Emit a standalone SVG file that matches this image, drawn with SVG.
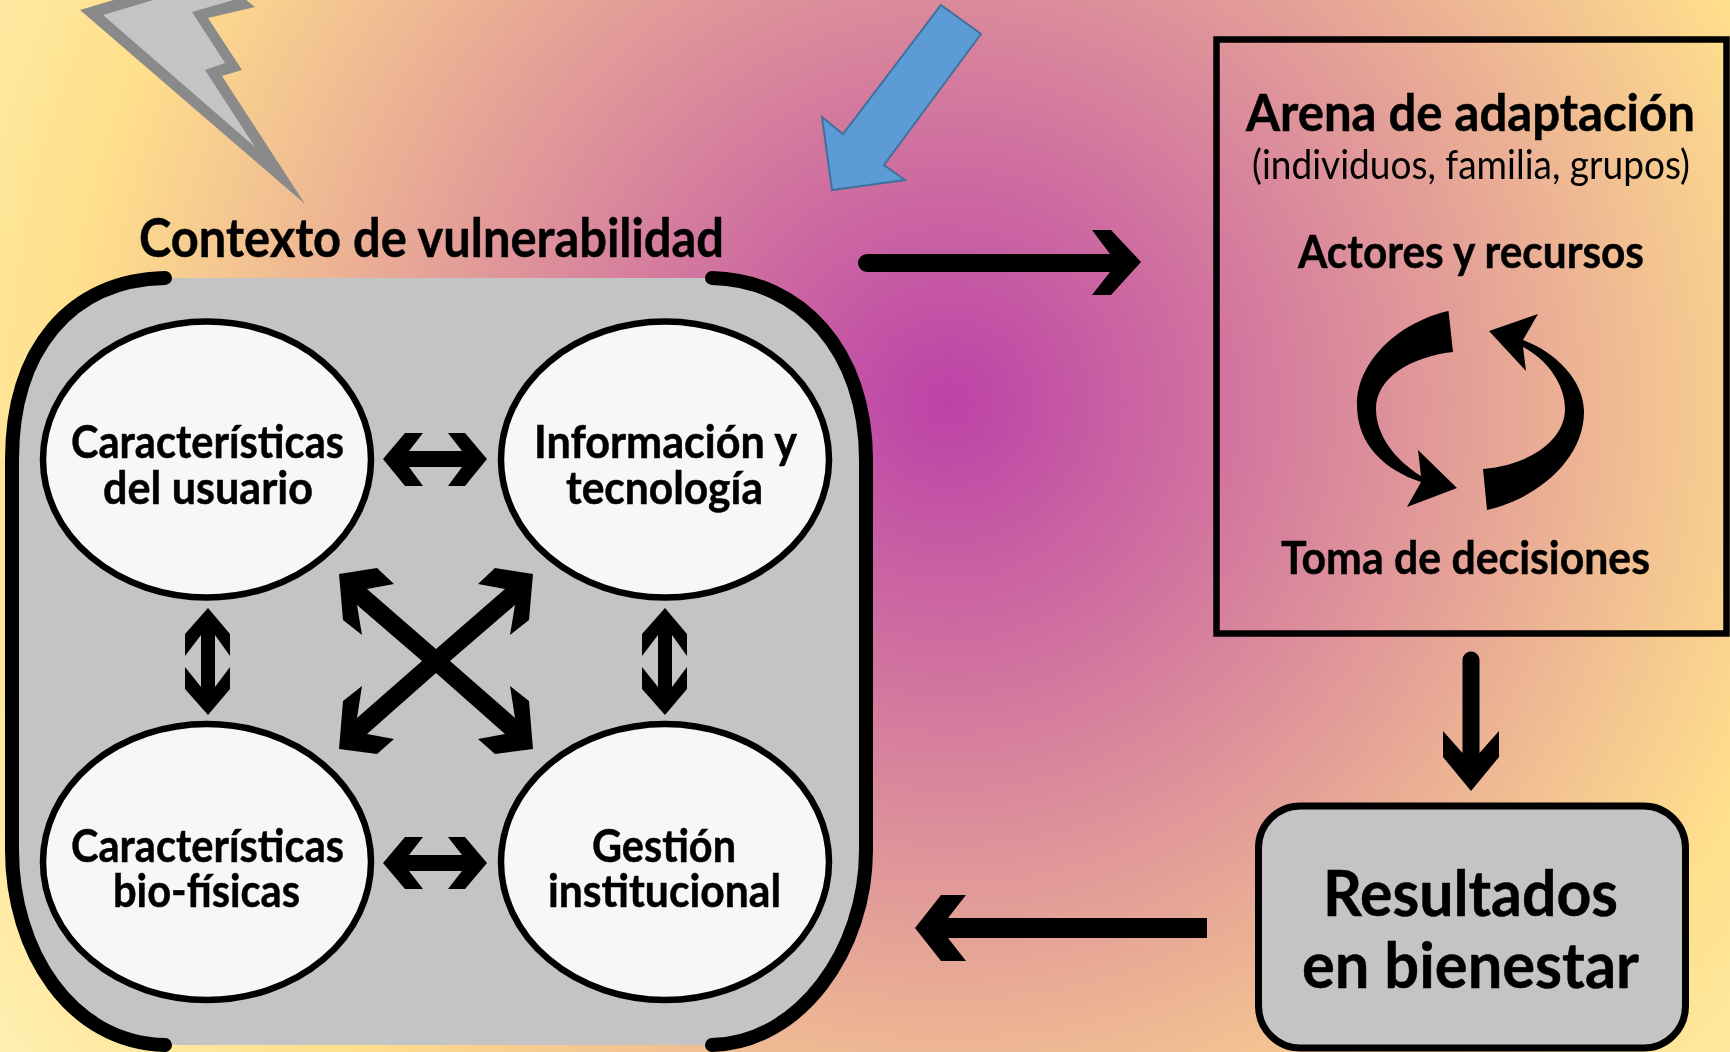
<svg xmlns="http://www.w3.org/2000/svg" width="1730" height="1052" viewBox="0 0 1730 1052">
<style>
text{font-family:"Lato","Noto Sans","Liberation Sans",sans-serif;fill:#000;text-anchor:start}
.b{font-weight:700;stroke:#000;stroke-width:0.5}
.big{font-size:54px}
.mid{font-size:46px}
.oval{fill:#f7f7f7;stroke:#000;stroke-width:6.5}
.edge{fill:none;stroke:#000;stroke-width:14;stroke-linecap:round}
.conn{fill:#000}
</style>
<defs>
<radialGradient id="bg" gradientUnits="userSpaceOnUse" cx="948" cy="403" r="1200">
<stop offset="0" stop-color="#bc42a8"/>
<stop offset="0.733" stop-color="#ffe08c"/>
<stop offset="1" stop-color="#fff2b8"/>
</radialGradient>
<filter id="soft" x="0" y="0" width="1730" height="1052" filterUnits="userSpaceOnUse"><feGaussianBlur stdDeviation="0.6"/></filter>
</defs>
<rect width="1730" height="1052" fill="url(#bg)"/>
<g filter="url(#soft)">
<g id="rayo">
<polygon points="80,10 117,-1 245,-1 255,7 208,18 242,70 222,76 305,204" fill="#8a8a8a"/>
<polygon points="103,15 157,-1 237,-1 192,12 225,63 205,70 255,147" fill="#c4c4c4"/>
</g>
<g id="flecha-azul">
<polygon points="941,5 981,34 884,165 905,180 832,190 822,117 843,134" fill="#5b9bd5" stroke="#41719c" stroke-width="2"/>
</g>
<g id="contexto">
<path d="M165 278H712C800 280 866 350 866 460V850C866 950 800 1043 712 1045H165C70 1043 12 950 12 850V460C12 350 70 280 165 278Z" fill="#c4c4c4"/>
<path class="edge" d="M165 278C70 280 12 350 12 460V850C12 950 70 1043 165 1045"/>
<path class="edge" d="M712 278C800 280 866 350 866 460V850C866 950 800 1043 712 1045"/>
<text class="b big" x="139" y="257" textLength="585" lengthAdjust="spacingAndGlyphs">Contexto de vulnerabilidad</text>
</g>
<g id="usuario">
<ellipse class="oval" cx="207" cy="459.5" rx="164" ry="138"/>
<text class="b mid" x="71" y="458" textLength="273" lengthAdjust="spacingAndGlyphs">Características</text>
<text class="b mid" x="103" y="504" textLength="210" lengthAdjust="spacingAndGlyphs">del usuario</text>
</g>
<g id="informacion">
<ellipse class="oval" cx="665" cy="459.5" rx="164" ry="138"/>
<text class="b mid" x="534" y="458" textLength="263" lengthAdjust="spacingAndGlyphs">Información y</text>
<text class="b mid" x="566" y="504" textLength="197" lengthAdjust="spacingAndGlyphs">tecnología</text>
</g>
<g id="biofisicas">
<ellipse class="oval" cx="207" cy="862" rx="164" ry="138"/>
<text class="b mid" x="71" y="862" textLength="273" lengthAdjust="spacingAndGlyphs">Características</text>
<text class="b mid" x="113" y="907" textLength="187" lengthAdjust="spacingAndGlyphs">bio-físicas</text>
</g>
<g id="gestion">
<ellipse class="oval" cx="665" cy="862" rx="164" ry="138"/>
<text class="b mid" x="592" y="862" textLength="144" lengthAdjust="spacingAndGlyphs">Gestión</text>
<text class="b mid" x="548" y="907" textLength="233" lengthAdjust="spacingAndGlyphs">institucional</text>
</g>
<g id="arena">
<rect x="1216.5" y="39.5" width="510" height="594" fill="none" stroke="#000" stroke-width="6.5"/>
<text class="b" font-size="51" x="1246" y="131" textLength="449" lengthAdjust="spacingAndGlyphs">Arena de adaptación</text>
<text font-size="40" x="1252" y="179" textLength="438" lengthAdjust="spacingAndGlyphs">(individuos, familia, grupos)</text>
<text class="b mid" x="1298" y="268" textLength="346" lengthAdjust="spacingAndGlyphs">Actores y recursos</text>
<text class="b mid" x="1281" y="574" textLength="369" lengthAdjust="spacingAndGlyphs">Toma de decisiones</text>
<path class="conn" d="M1448.5 311C1400 322 1357 360 1357 405C1357 445 1385 470 1421 482L1407 507L1457 488L1418 450L1421 476C1395 460 1376 435 1376 409C1376 378 1410 357 1453 352Z"/>
<path class="conn" d="M1487 510C1536 499 1584 460 1584 412C1584 380 1555 352 1523 340L1538 314L1489 331L1526 371L1523 347C1548 360 1565 385 1565 409C1565 440 1530 465 1483 469Z"/>
</g>
<g id="resultados">
<rect x="1258.5" y="806" width="427" height="242" rx="42" ry="42" fill="#c4c4c4" stroke="#000" stroke-width="7"/>
<text class="b" font-size="64" x="1323" y="916" textLength="295" lengthAdjust="spacingAndGlyphs">Resultados</text>
<text class="b" font-size="64" x="1302" y="988" textLength="337" lengthAdjust="spacingAndGlyphs">en bienestar</text>
</g>
<g id="conectores" class="conn">
<polygon points="383,459 405,433 423,433 409,451 462,451 448,433 465,433 487,459 465,486 448,486 462,467 409,467 423,486 405,486"/>
<polygon points="383,863 405,837 423,837 409,855 462,855 448,837 465,837 487,863 465,889 448,889 462,871 409,871 423,889 405,889"/>
<polygon id="v1" points="208,608 230,634 230,656 215,635 215,687 230,667 230,689 208,715 185,689 185,667 201,687 201,635 185,656 185,634"/>
<polygon id="v2" points="665,608 687,634 687,656 672,635 672,687 687,667 687,689 665,715 642,689 642,667 658,687 658,635 642,656 642,634"/>
<polygon points="436,649 367,589 394,584 377,568 339,574 343,620 362,635 357,605 422,661 357,718 362,686 343,701 339,749 377,754 394,739 367,734 436,673 505,734 478,739 495,754 533,749 529,701 510,686 515,718 450,661 515,605 510,635 529,620 533,574 495,568 478,584 505,589"/>
<path d="M867 254H1110L1092 230H1111L1141 262L1111 295H1092L1110 272H867A9 9 0 0 1 867 254Z"/>
<polygon points="1207,918 948,918 966,895 941,895 915,928 941,961 966,961 948,938 1207,938"/>
<path d="M1462.5 660A8.5 8.5 0 0 1 1479.5 660V753L1499 731V757L1471 791L1443 757V731L1462.5 753Z"/>
</g>
</g>
</svg>
